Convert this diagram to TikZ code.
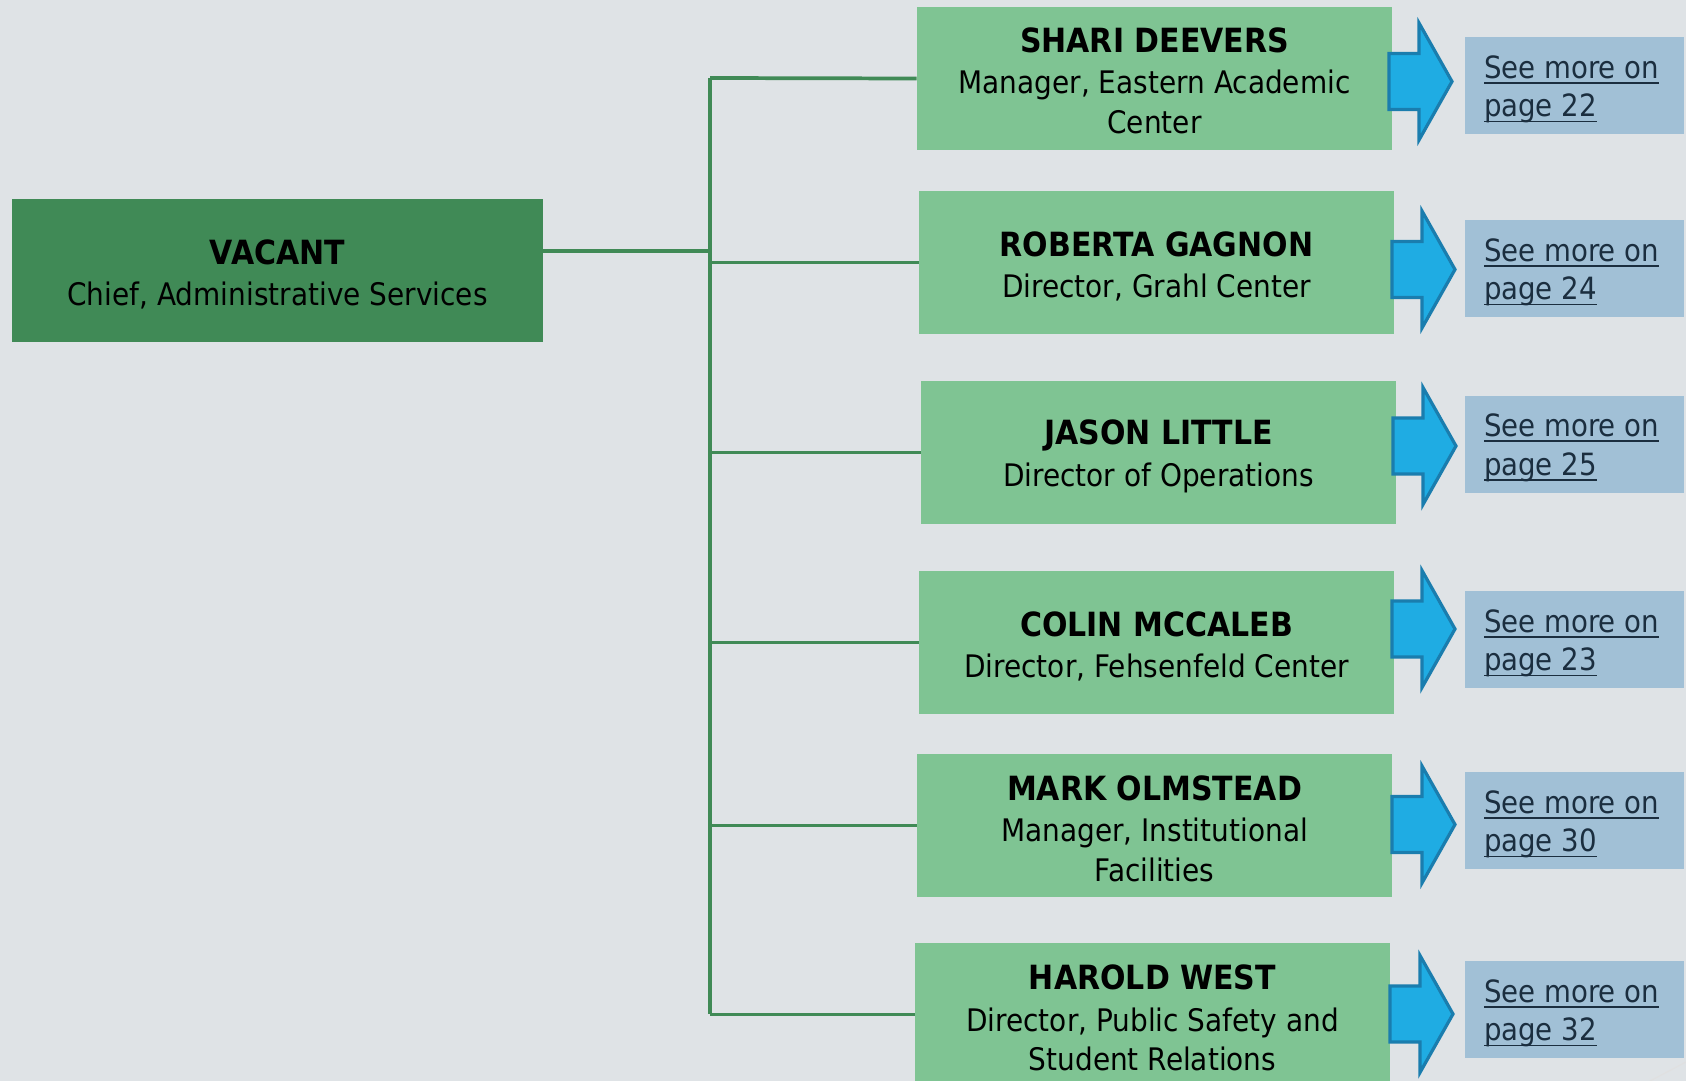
\documentclass[tikz,border=0pt]{standalone}
\usepackage{fontspec}
\setmainfont{DejaVu Sans}[FakeStretch=0.9]
\usetikzlibrary{calc}
\definecolor{bgc}{HTML}{DFE3E6}
\definecolor{dgreen}{HTML}{408A56}
\definecolor{lgreen}{HTML}{7FC493}
\definecolor{afill}{HTML}{1FACE3}
\definecolor{aline}{HTML}{1A7DAE}
\definecolor{bbox}{HTML}{A1C0D6}
\definecolor{btext}{HTML}{1B2E3F}
\newcommand\nmfont{\fontsize{25}{29.5}\selectfont\bfseries}
\newcommand\myul[1]{\leavevmode\hbox{\setbox0\hbox{#1}\rlap{\rule[-4.2pt]{\wd0}{1.4pt}}\box0}}
\newcommand\bigarrow[2]{%
  \draw[barrow] (#1-63,#2-28) -- (#1-33,#2-28) -- (#1-33,#2-58.5) -- (#1,#2)
    -- (#1-33,#2+58.5) -- (#1-33,#2+28) -- (#1-63,#2+28) -- cycle;}
\begin{document}
\begin{tikzpicture}[x=0.75pt,y=-0.75pt,
  boss/.style={fill=dgreen,draw=none,minimum width=398.25pt,minimum height=107.25pt,inner sep=0pt},
  gbox/.style={fill=lgreen,draw=none,minimum width=356.25pt,minimum height=107.25pt,inner sep=0pt},
  gtxt/.style={align=center,inner sep=0pt,font=\fontsize{23.3}{29.5}\selectfont,text=black},
  bluebox/.style={fill=bbox,draw=none,minimum height=72.75pt,minimum width=164.25pt,inner sep=0pt},
  btxt/.style={anchor=west,inner sep=0pt,align=left,font=\fontsize{23}{29}\selectfont,text=btext},
  conn/.style={draw=dgreen,line width=2.8pt},
  barrow/.style={fill=afill,draw=aline,line width=2.4pt,line join=miter}]
\fill[bgc] (0,0) rectangle (1686,1081);
\useasboundingbox (0,0) rectangle (1686,1081);
\draw[color=black!12,line width=0.8pt] (1686,1062) -- (1650,1081);

% boxes
\node[boss] (vac) at (277.5,270.5) {};
\node[gbox] (s1) at (1154.5,78.5) {};
\node[gbox] (s2) at (1156.5,262.5) {};
\node[gbox] (s3) at (1158.5,452.5) {};
\node[gbox] (s4) at (1156.5,642.5) {};
\node[gbox] (s5) at (1154.5,825.5) {};
\node[gbox] (s6) at (1152.5,1014.5) {};

\node[gtxt] (tv) at ($(vac.center)+(0,3.8)$) {{\nmfont VACANT}\\[1.6pt]Chief, Administrative Services};
\node[gtxt] (t1) at ($(s1.center)+(0,2)$) {{\nmfont SHARI DEEVERS}\\[1.6pt]Manager, Eastern Academic\\Center};
\node[gtxt] (t2) at ($(s2.center)+(0,3.8)$) {{\nmfont ROBERTA GAGNON}\\[1.6pt]Director, Grahl Center};
\node[gtxt] (t3) at ($(s3.center)+(0,3.8)$) {{\nmfont JASON LITTLE}\\[1.6pt]Director of Operations};
\node[gtxt] (t4) at ($(s4.center)+(0,3.8)$) {{\nmfont COLIN MCCALEB}\\[1.6pt]Director, Fehsenfeld Center};
\node[gtxt] (t5) at ($(s5.center)+(0,3)$) {{\nmfont MARK OLMSTEAD}\\[1.6pt]Manager, Institutional\\Facilities};
\node[gtxt] (t6) at ($(s6.center)+(0,3.5)$) {{\nmfont HAROLD WEST}\\[1.6pt]Director, Public Safety and\\Student Relations};

% connectors
\coordinate (ttop) at (710,78);
\coordinate (tbot) at (710,1014);
\coordinate (tmid) at (710,251);
\draw[conn] (ttop) -- (tbot);
\draw[conn] (tmid) -- (tmid -| vac.east);
\draw[conn] (ttop) -- (s1.west);
\foreach \k in {2,...,6} {\draw[conn] (s\k.west -| ttop) -- (s\k.west);}

% arrows
\bigarrow{1452}{81.5}
\bigarrow{1455}{269.5}
\bigarrow{1456}{446}
\bigarrow{1455}{629}
\bigarrow{1455}{824.5}
\bigarrow{1453}{1014}

% link boxes
\node[bluebox] (p1) at (1574.5,85.5) {};
\node[bluebox] (p2) at (1574.5,268.5) {};
\node[bluebox] (p3) at (1574.5,444) {};
\node[bluebox] (p4) at (1574.5,639.5) {};
\node[bluebox] (p5) at (1574.5,820.5) {};
\node[bluebox] (p6) at (1574.5,1009.5) {};
\node[btxt] (q1) at ($(p1.west)+(19,3.8)$) {\myul{See more on}\\\myul{page 22}};
\node[btxt] (q2) at ($(p2.west)+(19,3.8)$) {\myul{See more on}\\\myul{page 24}};
\node[btxt] (q3) at ($(p3.west)+(19,3.8)$) {\myul{See more on}\\\myul{page 25}};
\node[btxt] (q4) at ($(p4.west)+(19,3.8)$) {\myul{See more on}\\\myul{page 23}};
\node[btxt] (q5) at ($(p5.west)+(19,3.8)$) {\myul{See more on}\\\myul{page 30}};
\node[btxt] (q6) at ($(p6.west)+(19,3.8)$) {\myul{See more on}\\\myul{page 32}};
\end{tikzpicture}
\end{document}
